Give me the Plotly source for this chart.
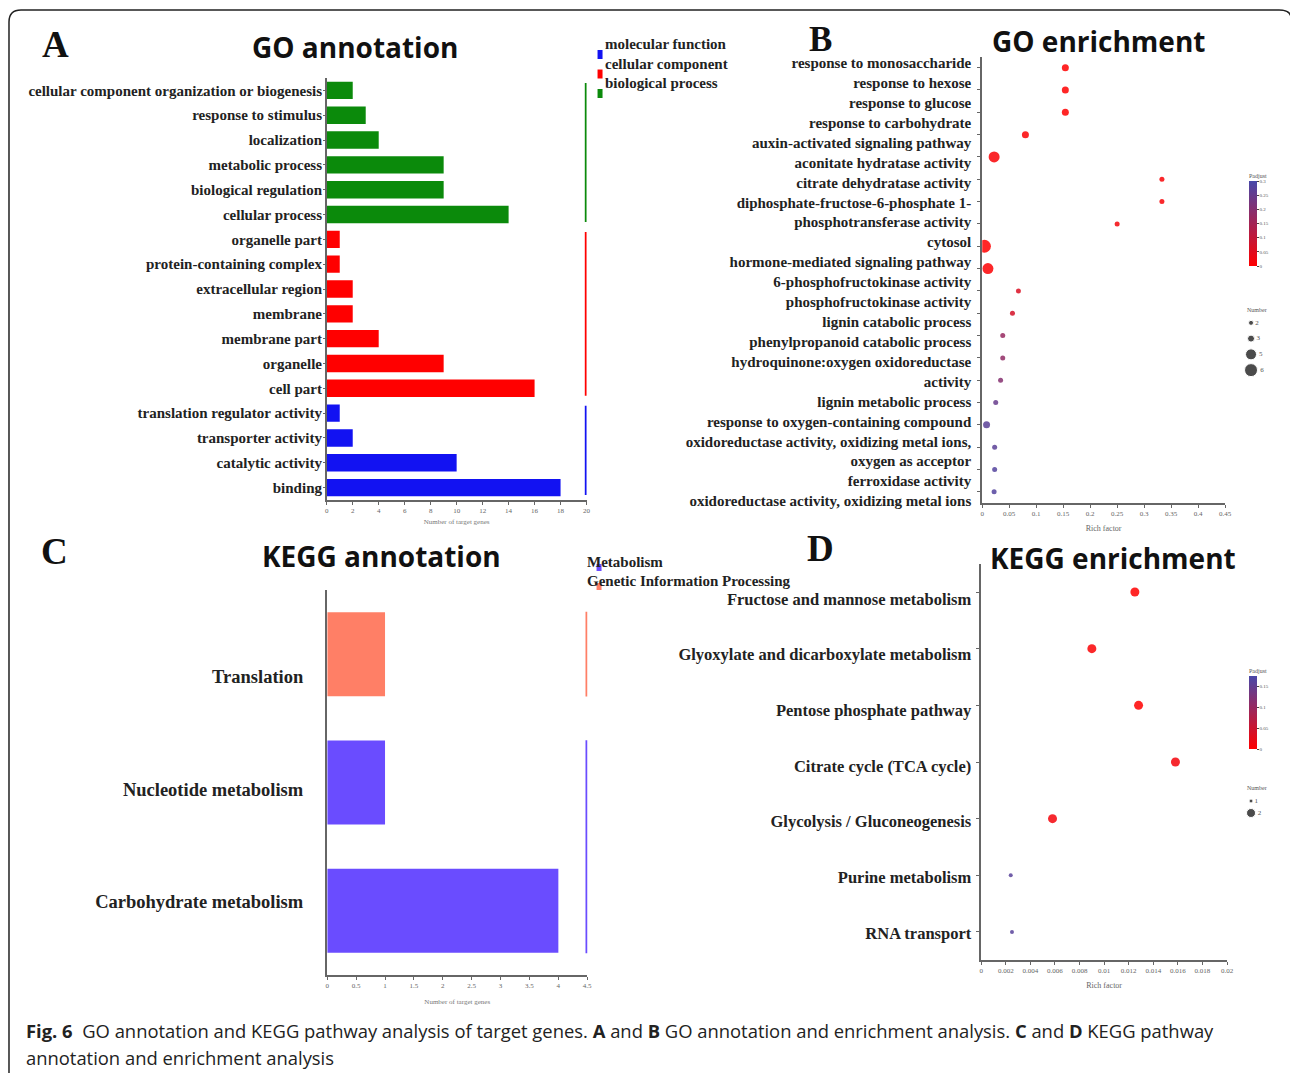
import plotly.graph_objects as go

# Reference canvas (layout positions below are read in these pixel units)
RW, RH = 1290, 1073
# The page is photographed at a slightly larger CSS viewport; size the figure to it
W, H = 1298, 1080

def fx(p): return p / RW
def fy(p): return 1 - p / RH

SERIF = "Liberation Serif"
SANS = "Open Sans"

# ---------------- Panel A: GO annotation ----------------
go_terms = ["cellular component organization or biogenesis", "response to stimulus", "localization",
            "metabolic process", "biological regulation", "cellular process",
            "organelle part", "protein-containing complex", "extracellular region", "membrane",
            "membrane part", "organelle", "cell part",
            "translation regulator activity", "transporter activity", "catalytic activity", "binding"]
go_counts = [2, 3, 4, 9, 9, 14, 1, 1, 2, 2, 4, 9, 16, 1, 2, 10, 18]
go_groups = ["biological process"] * 6 + ["cellular component"] * 7 + ["molecular function"] * 4
go_group_order = ["molecular function", "cellular component", "biological process"]
go_group_colors = {"molecular function": "#1212F2", "cellular component": "#FF0000",
                   "biological process": "#0B8A0B"}
go_xticks = [0, 2, 4, 6, 8, 10, 12, 14, 16, 18, 20]

# ---------------- Panel B: GO enrichment ----------------
enr_terms = ["response to monosaccharide", "response to hexose", "response to glucose",
             "response to carbohydrate", "auxin-activated signaling pathway",
             "aconitate hydratase activity", "citrate dehydratase activity",
             "diphosphate-fructose-6-phosphate 1-<br>phosphotransferase activity", "cytosol",
             "hormone-mediated signaling pathway", "6-phosphofructokinase activity",
             "phosphofructokinase activity", "lignin catabolic process",
             "phenylpropanoid catabolic process", "hydroquinone:oxygen oxidoreductase<br>activity",
             "lignin metabolic process", "response to oxygen-containing compound",
             "oxidoreductase activity, oxidizing metal ions,<br>oxygen as acceptor",
             "ferroxidase activity", "oxidoreductase activity, oxidizing metal ions"]
enr_rich = [0.154, 0.154, 0.154, 0.080, 0.022, 0.333, 0.333, 0.250, 0.004, 0.0105,
            0.067, 0.056, 0.038, 0.038, 0.034, 0.025, 0.008, 0.023, 0.023, 0.022]
enr_count = [3, 3, 3, 3, 5, 2, 2, 2, 6, 5, 2, 2, 2, 2, 2, 2, 3, 2, 2, 2]
enr_padj = [0.0, 0.0, 0.0, 0.005, 0.01, 0.01, 0.01, 0.02, 0.0, 0.005,
            0.06, 0.07, 0.17, 0.18, 0.20, 0.25, 0.27, 0.27, 0.28, 0.28]
enr_xticks = [0, 0.05, 0.1, 0.15, 0.2, 0.25, 0.3, 0.35, 0.4, 0.45]
enr_size_legend = [2, 3, 5, 6]

# ---------------- Panel C: KEGG annotation ----------------
kegg_terms = ["Translation", "Nucleotide metabolism", "Carbohydrate metabolism"]
kegg_counts = [1, 1, 4]
kegg_class = ["Genetic Information Processing", "Metabolism", "Metabolism"]
kegg_class_order = ["Metabolism", "Genetic Information Processing"]
kegg_class_colors = {"Metabolism": "#6A4CFF", "Genetic Information Processing": "#FF7F66"}
kegg_xticks = [0, 0.5, 1, 1.5, 2, 2.5, 3, 3.5, 4, 4.5]

# ---------------- Panel D: KEGG enrichment ----------------
path_terms = ["Fructose and mannose metabolism", "Glyoxylate and dicarboxylate metabolism",
              "Pentose phosphate pathway", "Citrate cycle (TCA cycle)",
              "Glycolysis / Gluconeogenesis", "Purine metabolism", "RNA transport"]
path_rich = [0.0125, 0.0090, 0.0128, 0.0158, 0.0058, 0.0024, 0.0025]
path_count = [2, 2, 2, 2, 2, 1, 1]
path_padj = [0.0, 0.005, 0.0, 0.01, 0.01, 0.16, 0.16]
path_xticks = [0, 0.002, 0.004, 0.006, 0.008, 0.01, 0.012, 0.014, 0.016, 0.018, 0.02]
path_size_legend = [1, 2]

COLORSCALE = [[0, "#FF0000"], [1, "#4848A8"]]

def size_b(n): return 2 * n + 1
def size_d(n): return 5 * n - 1

# label column helpers (category labels laid out as an evenly spaced text column)
def line_centres(labels):
    pos, k = [], 0
    for lab in labels:
        n = lab.count("<br>") + 1
        pos.append(k + (n - 1) / 2)
        k += n
    return pos, k

def label_range(first_px, last_px, nlines, top_px, bot_px):
    step = (last_px - first_px) / (nlines - 1)
    return [(bot_px - first_px) / step, (top_px - first_px) / step]

enr_label_pos, enr_nlines = line_centres(enr_terms)
path_label_pos, path_nlines = line_centres(path_terms)
kegg_label_pos, kegg_nlines = line_centres(kegg_terms)

B_TOP, B_BOT = 55.5, 502
C_TOP, C_BOT = 589, 974
D_TOP, D_BOT = 562.7, 959.3

fig = go.Figure()

# A bars
fig.add_trace(go.Bar(
    x=go_counts, y=go_terms, orientation="h", width=0.7,
    marker=dict(color=[go_group_colors[g] for g in go_groups], line=dict(width=0)),
    xaxis="x", yaxis="y", showlegend=False))

# B dots
fig.add_trace(go.Scatter(
    x=enr_rich, y=enr_terms, mode="markers",
    marker=dict(size=[size_b(n) for n in enr_count], color=enr_padj, coloraxis="coloraxis",
                opacity=0.85, line=dict(width=0)),
    xaxis="x2", yaxis="y2", showlegend=False))
fig.add_trace(go.Scatter(
    x=enr_rich, y=enr_label_pos, mode="markers", marker=dict(opacity=0), hoverinfo="skip",
    xaxis="x2", yaxis="y7", showlegend=False))

# C bars
fig.add_trace(go.Bar(
    x=kegg_counts, y=kegg_terms, orientation="h", width=0.655,
    marker=dict(color=[kegg_class_colors[c] for c in kegg_class], line=dict(width=0)),
    xaxis="x3", yaxis="y3", showlegend=False))
fig.add_trace(go.Scatter(
    x=kegg_counts, y=kegg_label_pos, mode="markers", marker=dict(opacity=0), hoverinfo="skip",
    xaxis="x3", yaxis="y9", showlegend=False))

# D dots
fig.add_trace(go.Scatter(
    x=path_rich, y=path_terms, mode="markers",
    marker=dict(size=[size_d(n) for n in path_count], color=path_padj, coloraxis="coloraxis2",
                opacity=0.85, line=dict(width=0)),
    xaxis="x4", yaxis="y4", showlegend=False))
fig.add_trace(go.Scatter(
    x=path_rich, y=path_label_pos, mode="markers", marker=dict(opacity=0), hoverinfo="skip",
    xaxis="x4", yaxis="y8", showlegend=False))

# size legends
fig.add_trace(go.Scatter(
    x=[0] * len(enr_size_legend), y=[str(v) for v in enr_size_legend], mode="markers+text",
    text=[str(v) for v in enr_size_legend], textposition="middle right",
    textfont=dict(family=SERIF, size=7, color="#555"),
    marker=dict(size=[size_b(v) for v in enr_size_legend], color="black"),
    xaxis="x5", yaxis="y5", showlegend=False, cliponaxis=False))
fig.add_trace(go.Scatter(
    x=[0] * len(path_size_legend), y=[str(v) for v in path_size_legend], mode="markers+text",
    text=[str(v) for v in path_size_legend], textposition="middle right",
    textfont=dict(family=SERIF, size=7, color="#555"),
    marker=dict(size=[size_d(v) for v in path_size_legend], color="black"),
    xaxis="x6", yaxis="y6", showlegend=False, cliponaxis=False))

tickfont_small = dict(family=SERIF, size=7, color="#666")
axis_line = dict(showline=True, linecolor="#666", linewidth=1.5, showgrid=False, zeroline=False,
                 ticks="outside", ticklen=3, tickcolor="#666")

def label_font(size):
    return dict(family=SERIF, size=size, color="#222", weight="bold")

def label_axis(base, anchor, rng, pos, text, size, standoff):
    return dict(overlaying=base, anchor=anchor, side="left", type="linear", range=rng,
                tickvals=pos, ticktext=text, tickfont=label_font(size), showline=False,
                ticks="", showgrid=False, zeroline=False, ticklabelstandoff=standoff)

layout = dict(
    width=W, height=H, margin=dict(l=0, r=0, t=0, b=0),
    paper_bgcolor="white", plot_bgcolor="white", showlegend=False,
    # A
    xaxis=dict(domain=[fx(325), fx(585)], anchor="y", range=[0, 20], tickvals=go_xticks,
               tickfont=tickfont_small, title=dict(text="Number of target genes",
               font=dict(family=SERIF, size=7, color="#777"), standoff=5), **axis_line),
    yaxis=dict(domain=[fy(499), fy(77)], anchor="x", type="category",
               range=[len(go_terms) - 0.5, -0.5],
               tickfont=label_font(15), ticklabelstandoff=-2,
               showline=True, linecolor="#666", linewidth=1.5, showgrid=False, zeroline=False,
               ticks="outside", ticklen=2, tickcolor="#666"),
    # B
    xaxis2=dict(domain=[fx(981), fx(1224)], anchor="y2", range=[0, 0.45], tickvals=enr_xticks,
                tickfont=tickfont_small, title=dict(text="Rich factor",
                font=dict(family=SERIF, size=8, color="#666"), standoff=8), **axis_line),
    yaxis2=dict(domain=[fy(B_BOT), fy(B_TOP)], anchor="x2", type="category",
                range=[len(enr_terms) - 0.5, -0.5], showticklabels=False, **axis_line),
    yaxis7=label_axis("y2", "x2", label_range(62, 500, enr_nlines, B_TOP, B_BOT),
                      enr_label_pos, enr_terms, 15, 10),
    # C
    xaxis3=dict(domain=[fx(325.5), fx(585.7)], anchor="y3", range=[0, 4.5], tickvals=kegg_xticks,
                tickfont=tickfont_small, title=dict(text="Number of target genes",
                font=dict(family=SERIF, size=7, color="#777"), standoff=10), **axis_line),
    yaxis3=dict(domain=[fy(C_BOT), fy(C_TOP)], anchor="x3", type="category",
                range=[len(kegg_terms) - 0.5, -0.5], showticklabels=False,
                showline=True, linecolor="#666", linewidth=1.5, showgrid=False, zeroline=False,
                ticks=""),
    yaxis9=label_axis("y3", "x3", label_range(676, 901, kegg_nlines, C_TOP, C_BOT),
                      kegg_label_pos, kegg_terms, 18.5, 23),
    # D
    xaxis4=dict(domain=[fx(980), fx(1226)], anchor="y4", range=[0, 0.02], tickvals=path_xticks,
                tickfont=tickfont_small, title=dict(text="Rich factor",
                font=dict(family=SERIF, size=8, color="#666"), standoff=8), **axis_line),
    yaxis4=dict(domain=[fy(D_BOT), fy(D_TOP)], anchor="x4", type="category",
                range=[len(path_terms) - 0.5, -0.5], showticklabels=False, **axis_line),
    yaxis8=label_axis("y4", "x4", label_range(598, 932, path_nlines, D_TOP, D_BOT),
                      path_label_pos, path_terms, 16.5, 9),
    # size legend axes
    xaxis5=dict(domain=[fx(1243), fx(1257)], anchor="y5", range=[-1, 1], visible=False),
    yaxis5=dict(domain=[fy(377), fy(314)], anchor="x5", type="category", range=[3.5, -0.5],
                visible=False),
    xaxis6=dict(domain=[fx(1243), fx(1257)], anchor="y6", range=[-1, 1], visible=False),
    yaxis6=dict(domain=[fy(818), fy(794)], anchor="x6", type="category", range=[1.5, -0.5],
                visible=False),
    coloraxis=dict(colorscale=COLORSCALE, cmin=0, cmax=0.3,
                   colorbar=dict(x=fx(1248), xanchor="left", y=fy(265), yanchor="bottom",
                                 lenmode="pixels", len=96, thickness=8, outlinewidth=0,
                                 xpad=0, ypad=0,
                                 tickvals=[0, 0.05, 0.1, 0.15, 0.2, 0.25, 0.3],
                                 tickfont=dict(family=SERIF, size=5, color="#555"),
                                 ticks="outside", ticklen=2,
                                 title=dict(text="Padjust", side="top",
                                            font=dict(family=SERIF, size=6, color="#555")))),
    coloraxis2=dict(colorscale=COLORSCALE, cmin=0, cmax=0.175,
                    colorbar=dict(x=fx(1248), xanchor="left", y=fy(748), yanchor="bottom",
                                  lenmode="pixels", len=84, thickness=8, outlinewidth=0,
                                  xpad=0, ypad=0,
                                  tickvals=[0, 0.05, 0.1, 0.15],
                                  tickfont=dict(family=SERIF, size=5, color="#555"),
                                  ticks="outside", ticklen=2,
                                  title=dict(text="Padjust", side="top",
                                             font=dict(family=SERIF, size=6, color="#555")))),
)

shapes = []
annotations = []

# Group brackets in A
for g in go_group_order:
    idx = [i for i, v in enumerate(go_groups) if v == g]
    shapes.append(dict(type="line", xref="x", yref="y", x0=go_xticks[-1], x1=go_xticks[-1],
                       y0=min(idx) - 0.3, y1=max(idx) + 0.3,
                       line=dict(color=go_group_colors[g], width=3.5)))
# Group brackets in C
for c in kegg_class_order:
    idx = [i for i, v in enumerate(kegg_class) if v == c]
    shapes.append(dict(type="line", xref="x3", yref="y3", x0=kegg_xticks[-1], x1=kegg_xticks[-1],
                       y0=min(idx) - 0.33, y1=max(idx) + 0.33,
                       line=dict(color=kegg_class_colors[c], width=3.5)))

# A legend
for i, g in enumerate(go_group_order):
    ty = 43 + i * 19.5
    annotations.append(dict(xref="paper", yref="paper", x=fx(601), y=fy(ty), xanchor="left",
                            yanchor="middle", showarrow=False, text=f"<b>{g}</b>",
                            font=dict(family=SERIF, size=15, color="#222")))
    shapes.append(dict(type="rect", xref="paper", yref="paper", x0=fx(596), x1=fx(601),
                       y0=fy(ty + 15), y1=fy(ty + 6), line=dict(width=0),
                       fillcolor=go_group_colors[g]))
# C legend
for i, c in enumerate(kegg_class_order):
    ty = 561 + i * 19
    annotations.append(dict(xref="paper", yref="paper", x=fx(583), y=fy(ty), xanchor="left",
                            yanchor="middle", showarrow=False, text=f"<b>{c}</b>",
                            font=dict(family=SERIF, size=15, color="#222")))
    shapes.append(dict(type="rect", xref="paper", yref="paper", x0=fx(595), x1=fx(600),
                       y0=fy(ty + 9), y1=fy(ty + 2), line=dict(width=0),
                       fillcolor=kegg_class_colors[c]))

# size legend titles
annotations.append(dict(xref="paper", yref="paper", x=fx(1244), y=fy(309), xanchor="left",
                        yanchor="middle", showarrow=False, text="Number",
                        font=dict(family=SERIF, size=6, color="#555")))
annotations.append(dict(xref="paper", yref="paper", x=fx(1244), y=fy(787), xanchor="left",
                        yanchor="middle", showarrow=False, text="Number",
                        font=dict(family=SERIF, size=6, color="#555")))

# Panel titles and letters
titles = [("GO annotation", 353, 46), ("GO enrichment", 1097, 40),
          ("KEGG annotation", 380, 555), ("KEGG enrichment", 1112, 557)]
for t, x, y in titles:
    annotations.append(dict(xref="paper", yref="paper", x=fx(x), y=fy(y), xanchor="center",
                            yanchor="middle", showarrow=False, text=f"<b>{t}</b>",
                            font=dict(family=SANS, size=28, color="#111")))
letters = [("A", 54, 43, 37), ("B", 819, 38, 35), ("C", 53, 550, 37), ("D", 819, 547, 37)]
for t, x, y, s in letters:
    annotations.append(dict(xref="paper", yref="paper", x=fx(x), y=fy(y), xanchor="center",
                            yanchor="middle", showarrow=False, text=f"<b>{t}</b>",
                            font=dict(family=SERIF, size=s, color="#111")))

# Caption
annotations.append(dict(xref="paper", yref="paper", x=fx(22), y=fy(1029), xanchor="left",
                        yanchor="middle", showarrow=False,
                        text="<b>Fig. 6</b>&nbsp; GO annotation and KEGG pathway analysis of target genes. "
                             "<b>A</b> and <b>B</b> GO annotation and enrichment analysis. "
                             "<b>C</b> and <b>D</b> KEGG pathway",
                        font=dict(family=SANS, size=18.4, color="#222")))
annotations.append(dict(xref="paper", yref="paper", x=fx(22), y=fy(1056), xanchor="left",
                        yanchor="middle", showarrow=False,
                        text="annotation and enrichment analysis",
                        font=dict(family=SANS, size=18.4, color="#222")))

# Outer frame (left and top edges with rounded corners)
path = (f"M {fx(7)},{fy(1073)} L {fx(7)},{fy(21)} Q {fx(7)},{fy(9)} {fx(19)},{fy(9)} "
        f"L {fx(1278)},{fy(9)} Q {fx(1289)},{fy(9)} {fx(1290)},{fy(16)}")
shapes.append(dict(type="path", xref="paper", yref="paper", path=path,
                   line=dict(color="#222", width=1.5)))

layout["shapes"] = shapes
layout["annotations"] = annotations
fig.update_layout(**layout)
fig.write_html(
    "out.html", config={"displayModeBar": False},
    post_script=("document.documentElement.style.overflow='hidden';"
                 "document.body.style.margin='0';document.body.style.overflow='hidden';"))
